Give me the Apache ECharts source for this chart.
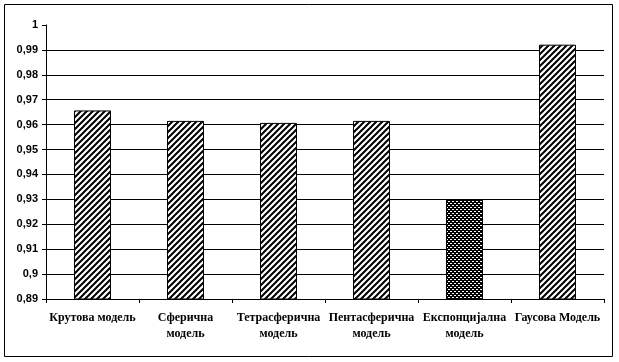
<!DOCTYPE html>
<html><head><meta charset="utf-8">
<script src="https://cdn.jsdelivr.net/npm/echarts@6/dist/echarts.min.js"></script>
<style>html,body{margin:0;padding:0;background:#fff}#c{width:619px;height:362px}</style>
</head><body><div id="c"></div>
<script>
var categories = ['Крутова модель', 'Сферична\nмодель', 'Тетрасферична\nмодель', 'Пентасферична\nмодель', 'Експонцијална\nмодель', 'Гаусова Модель'];
var values = [0.9657, 0.9615, 0.9607, 0.9615, 0.9299, 0.9921];
var yMin = 0.89, yMax = 1, yStep = 0.01;

function hatch() {
  var n = 6, c = document.createElement('canvas');
  c.width = n; c.height = n;
  var g = c.getContext('2d');
  g.fillStyle = '#fff'; g.fillRect(0, 0, n, n);
  g.strokeStyle = '#000'; g.lineWidth = 2;
  g.beginPath();
  g.moveTo(-1, n + 1); g.lineTo(n + 1, -1);
  g.moveTo(-1 - n, n + 1); g.lineTo(1, -1);
  g.moveTo(n - 1, n + 1); g.lineTo(2 * n + 1, -1);
  g.stroke();
  return c;
}
function dots() {
  var c = document.createElement('canvas');
  c.width = 4; c.height = 4;
  var g = c.getContext('2d');
  g.fillStyle = '#000'; g.fillRect(0, 0, 4, 4);
  g.fillStyle = '#fff';
  g.fillRect(0, 1, 2, 1);
  g.fillRect(2, 3, 2, 1);
  return c;
}
var hatchImg = hatch(), dotImg = dots();
var seriesData = values.map(function (v, i) {
  return {
    value: v,
    itemStyle: { color: { image: i === 4 ? dotImg : hatchImg, repeat: 'repeat' }, borderColor: '#000', borderWidth: 1 }
  };
});
var nLines = Math.round((yMax - yMin) / yStep) + 1;
var gridColors = [];
for (var k = 0; k < nLines; k++) gridColors.push(k === nLines - 1 ? 'rgba(0,0,0,0)' : '#000');

var chart = echarts.init(document.getElementById('c'), null, { renderer: 'canvas' });
chart.setOption({
  animation: false,
  backgroundColor: '#fff',
  grid: { left: 46, right: 15, top: 25, bottom: 63, containLabel: false },
  graphic: [{ type: 'rect', shape: { x: 4.5, y: 4.5, width: 608, height: 352 }, style: { fill: 'none', stroke: '#000', lineWidth: 1 }, silent: true }],
  xAxis: {
    type: 'category', data: categories,
    axisLine: { lineStyle: { color: '#000', width: 1 } },
    axisTick: { show: true, length: 4, lineStyle: { color: '#000' } },
    axisLabel: { interval: 0, color: '#000', fontFamily: 'Liberation Sans Narrow', fontWeight: 'bold', fontSize: 12, lineHeight: 16, margin: 11 }
  },
  yAxis: {
    type: 'value', min: yMin, max: yMax, interval: yStep,
    axisLine: { show: true, lineStyle: { color: '#000', width: 1 } },
    axisTick: { show: true, length: 4, lineStyle: { color: '#000' } },
    splitLine: { show: true, lineStyle: { color: gridColors, width: 1 } },
    axisLabel: {
      color: '#000', fontFamily: 'Liberation Sans', fontWeight: 'bold', fontSize: 11, margin: 8,
      formatter: function (v) { return String(parseFloat(v.toFixed(2))).replace('.', ','); }
    }
  },
  series: [{ type: 'bar', data: seriesData, barWidth: 37 }]
});
</script></body></html>
